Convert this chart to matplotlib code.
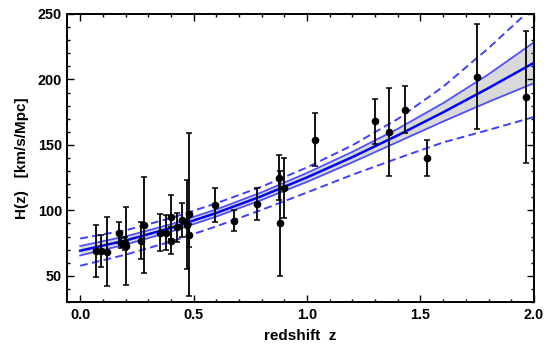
import matplotlib
matplotlib.use("Agg")
import matplotlib.pyplot as plt
from matplotlib.ticker import MultipleLocator, FormatStrFormatter

plt.rcParams['font.family'] = ['Liberation Sans', 'DejaVu Sans']

# ---- measured H(z) data ----
z_data = [0.070, 0.090, 0.120, 0.170, 0.179, 0.199, 0.200, 0.270, 0.280,
          0.352, 0.3802, 0.400, 0.4004, 0.4247, 0.4497, 0.470, 0.4783, 0.480,
          0.593, 0.680, 0.781, 0.875, 0.880, 0.900, 1.037, 1.300, 1.363,
          1.430, 1.530, 1.750, 1.965]
H_data = [69.0, 69.0, 68.6, 83.0, 75.0, 75.0, 72.9, 77.0, 88.8,
          83.0, 83.0, 95.0, 77.0, 87.1, 92.8, 89.0, 80.9, 97.0,
          104.0, 92.0, 105.0, 125.0, 90.0, 117.0, 154.0, 168.0, 160.0,
          177.0, 140.0, 202.0, 186.5]
H_err = [19.6, 12.0, 26.2, 8.0, 4.0, 5.0, 29.6, 14.0, 36.6,
         14.0, 13.5, 17.0, 10.2, 11.2, 12.9, 34.0, 9.0, 62.0,
         13.0, 8.0, 12.0, 17.0, 40.0, 23.0, 20.0, 17.0, 33.6,
         18.0, 14.0, 40.0, 50.4]

# ---- reconstructed curves ----
z_curve = [0.0, 0.2, 0.4, 0.6, 0.8, 1.0, 1.2, 1.4, 1.6, 1.8, 2.0]
H_best = [69.2, 77.0, 86.6, 98.0, 110.9, 125.2, 140.7, 157.3, 174.9, 193.4, 212.7]
H_1s_up = [72.8, 80.1, 89.4, 100.7, 113.8, 128.6, 144.7, 162.3, 181.9, 203.9, 228.3]
H_1s_lo = [65.6, 73.9, 83.8, 95.3, 108.0, 121.8, 136.7, 152.3, 167.9, 182.9, 197.1]
H_2s_up = [78.5, 84.8, 94.1, 105.4, 118.1, 132.8, 149.7, 169.8, 194.4, 223.9, 255.7]
H_2s_lo = [57.7, 66.2, 76.2, 87.8, 100.4, 113.7, 127.2, 139.8, 151.9, 161.4, 171.3]

fig = plt.figure(figsize=(5.5, 3.48), dpi=100)
ax = fig.add_axes([0.1227, 0.132, 0.848, 0.828])

ax.fill_between(z_curve, H_1s_lo, H_1s_up, color='#d9d9d9', zorder=1, lw=0)
ax.plot(z_curve, H_1s_up, color='#4f4fff', lw=1.3, zorder=2)
ax.plot(z_curve, H_1s_lo, color='#4f4fff', lw=1.3, zorder=2)
ax.plot(z_curve, H_best, color='#0000ff', lw=1.8, zorder=3)
ax.plot(z_curve, H_2s_up, color='#4040ff', lw=1.4, ls=(0, (4, 2.2)), zorder=2)
ax.plot(z_curve, H_2s_lo, color='#4040ff', lw=1.4, ls=(0, (4, 2.2)), zorder=2)

ax.errorbar(z_data, H_data, yerr=H_err, fmt='o', color='black', ms=4.5,
            elinewidth=1.3, capsize=2.4, capthick=1.1, zorder=5)

ax.set_xlim(-0.056, 2.0)
ax.set_ylim(30, 250)
ax.xaxis.set_major_locator(MultipleLocator(0.5))
ax.xaxis.set_minor_locator(MultipleLocator(0.1))
ax.yaxis.set_major_locator(MultipleLocator(50))
ax.yaxis.set_minor_locator(MultipleLocator(10))
ax.xaxis.set_major_formatter(FormatStrFormatter('%.1f'))

ax.tick_params(which='both', direction='in', top=True, right=True,
               labelsize=10.4, width=1.0, pad=4)
ax.tick_params(which='major', length=5)
ax.tick_params(which='minor', length=2.5)
for lab in ax.get_xticklabels() + ax.get_yticklabels():
    lab.set_fontweight('bold')
for sp in ax.spines.values():
    sp.set_linewidth(1.4)

ax.set_xlabel('redshift  z', fontsize=11, fontweight='bold', labelpad=5)
ax.set_ylabel('H(z)   [km/s/Mpc]', fontsize=11, fontweight='bold', labelpad=6)

fig.savefig('out.png', dpi=100)
